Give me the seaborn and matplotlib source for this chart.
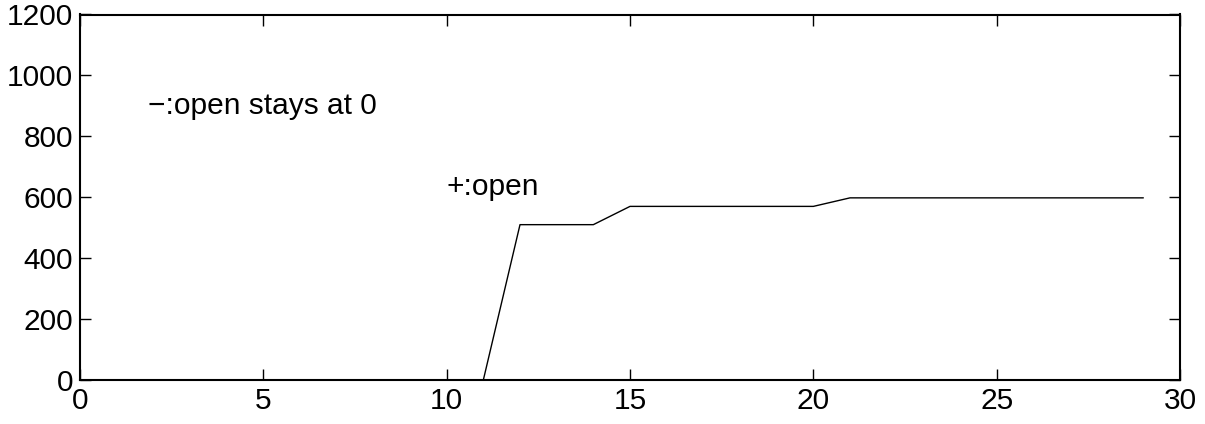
import numpy as np
import pandas as pd
import matplotlib
matplotlib.use("Agg")
import matplotlib.pyplot as plt
import seaborn as sns

steps = list(range(0, 30))
values = [0]*12 + [510]*3 + [570]*6 + [598]*9
x_ticks = [0, 5, 10, 15, 20, 25, 30]
y_ticks = [0, 200, 400, 600, 800, 1000, 1200]

sns.set_theme(style="white")
plt.rcParams['font.family'] = ['Liberation Sans', 'DejaVu Sans']
plt.rcParams['text.color'] = 'black'

fig = plt.figure(figsize=(12.05, 4.24), dpi=100)
ax = fig.add_axes([80/1205, 1-380/424, 1100/1205, 365.5/424])
df = pd.DataFrame({"step": steps, "value": values})
sns.lineplot(data=df, x="step", y="value", ax=ax, color="black", linewidth=1.0)

ax.set_xlim(0, 30)
ax.set_ylim(0, 1200)
ax.set_xticks(x_ticks)
ax.set_yticks(y_ticks)
ax.set_xlabel("")
ax.set_ylabel("")
ax.tick_params(direction="in", length=8, width=1, labelsize=21.5, top=True, right=True,
               bottom=True, left=True, colors="black", labelcolor="black", pad=5)
for s in ax.spines.values():
    s.set_visible(True)
    s.set_color("black")
    s.set_linewidth(1.5)

ax.text(1.85, 900, "\u2212:open stays at 0", fontsize=21.5, va="center", ha="left", color="black")
ax.text(10.0, 635, "+:open", fontsize=21.5, va="center", ha="left", color="black")

fig.savefig("out.png", dpi=100)
